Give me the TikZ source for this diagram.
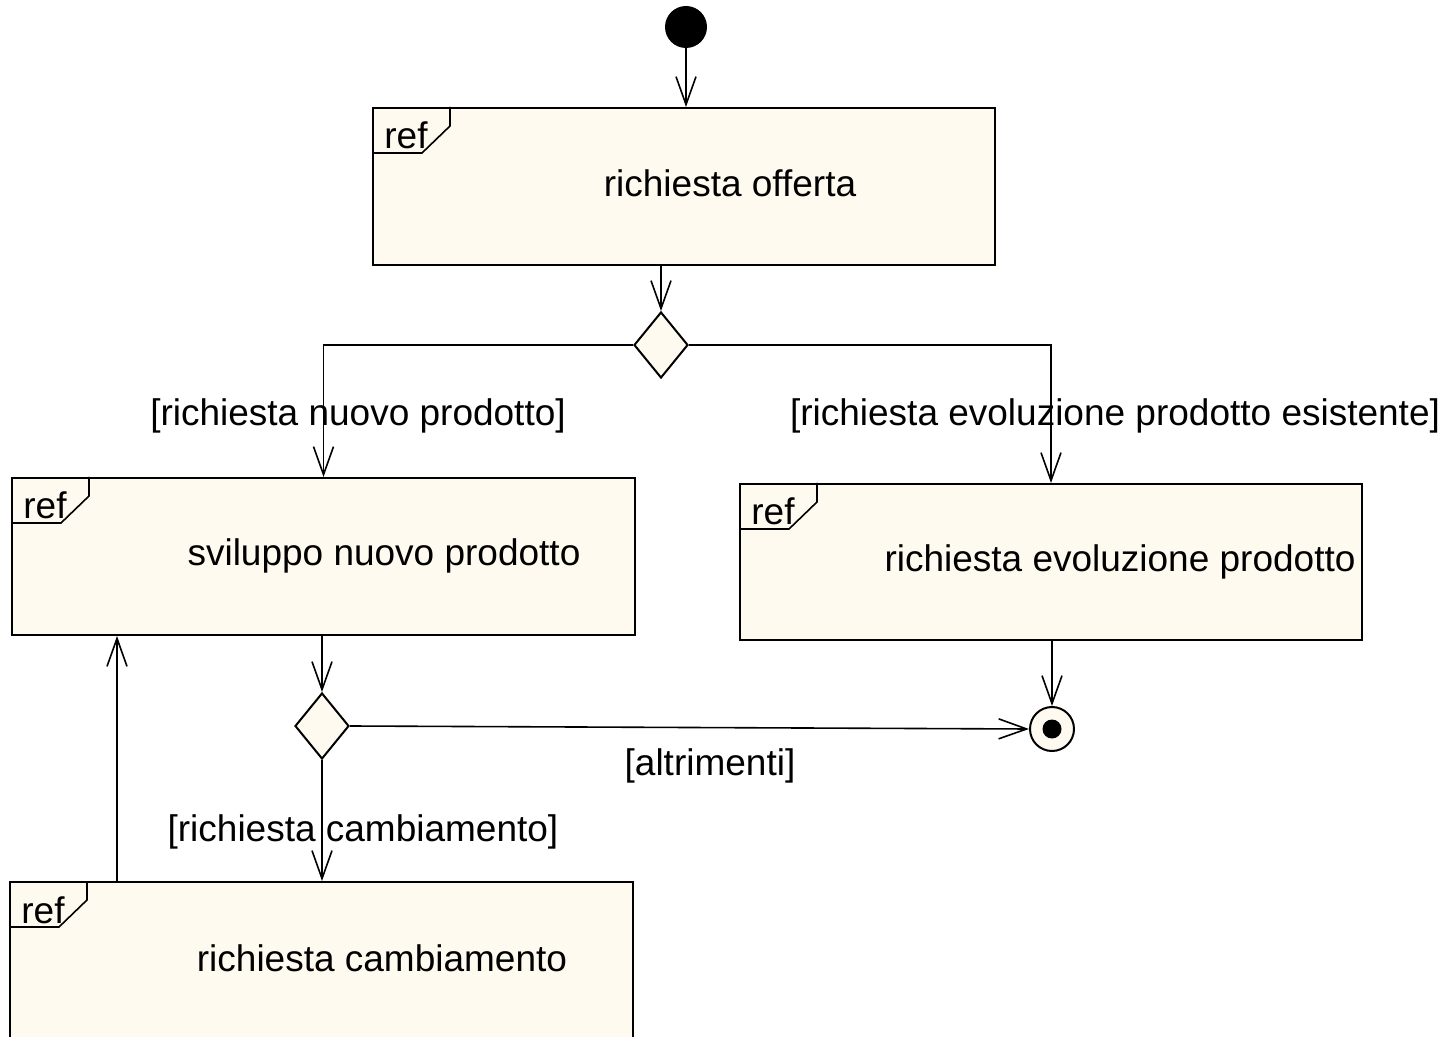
\documentclass[tikz,border=0pt]{standalone}
\usepackage{fontspec}
\setmainfont{Liberation Sans}
\usetikzlibrary{arrows.meta,calc,shapes.geometric}
\definecolor{boxfill}{HTML}{FFFAEF}
\tikzset{
  actbox/.style={draw, line width=1pt, fill=boxfill, rectangle, inner sep=0pt},
  decision/.style={draw, line width=1pt, fill=boxfill, diamond, inner sep=0pt, minimum width=27pt, minimum height=33pt},
  conn/.style={line width=0.8pt, -{Straight Barb[length=14pt,width=10pt,line width=0.8pt]}},
  plain/.style={line width=0.8pt},
  txt/.style={inner sep=0pt, anchor=base, font=\fontsize{18.5pt}{22pt}\selectfont},
  reftab/.style={line width=0.8pt},
}
\newcommand{\refmark}[1]{%
  \draw[reftab] ($(#1.north west)+(78,0)$) -- ++(0,19) -- ++(-28,27) -- ++(-50,0);
  \node[txt, anchor=base west] at ($(#1.north west)+(12,42)$) {ref};
}
\begin{document}
\begin{tikzpicture}[x=0.5pt,y=-0.5pt]
\clip (0,0) rectangle (1452,1037);
\fill[white] (0,0) rectangle (1452,1037);

% initial node
\node[circle, fill=black, minimum size=21pt, inner sep=0pt] (init) at (686,27) {};

% activity boxes
\node[actbox, minimum width=311pt, minimum height=78.5pt] (box1) at (684,186.5) {};
\node[actbox, minimum width=311.5pt, minimum height=78.5pt] (box2) at (323.5,556.5) {};
\node[actbox, minimum width=311pt, minimum height=78pt] (box3) at (1051,562) {};
\node[actbox, minimum width=311.5pt, minimum height=78.5pt] (box4) at (321.5,960.5) {};

\refmark{box1}
\refmark{box2}
\refmark{box3}
\refmark{box4}

\node[txt] (t1) at (730,197) {richiesta offerta};
\node[txt] (t2) at (384,566) {sviluppo nuovo prodotto};
\node[txt] (t3) at (1120,572) {richiesta evoluzione prodotto};
\node[txt] (t4) at (382,971) {richiesta cambiamento};

% decisions
\node[decision] (d1) at (661,345) {};
\node[decision] (d2) at (322,726) {};

% final node
\node[circle, draw, line width=1pt, fill=boxfill, minimum size=22pt, inner sep=0pt] (fin) at (1052,729) {};
\fill[black] (fin.center) circle (9.5);

% connectors
\draw[conn] (init.south) -- (init |- box1.north);
\draw[conn] (d1.north |- box1.south) -- (d1.north);
\draw[conn] (d1.west) -| (box2.north);
\draw[conn] (d1.east) -| (box3.north);
\draw[conn] (d2.north |- box2.south) -- (d2.north);
\draw[conn] (d2.east) -- (fin.west);
\draw[conn] (fin.north |- box3.south) -- (fin.north);
\draw[conn] (d2.south) -- (d2.south |- box4.north);
\coordinate (loopstart) at ($(box4.north west)+(108,0)$);
\draw[conn] (loopstart) -- (loopstart |- box2.south);

% guard labels
\node[txt] (g1) at (358,426) {[richiesta nuovo prodotto]};
\node[txt] (g2) at (1115,426) {[richiesta evoluzione prodotto esistente]};
\node[txt] (g3) at (710,775) {[altrimenti]};
\node[txt] (g4) at (363,841) {[richiesta cambiamento]};
\end{tikzpicture}
\end{document}
